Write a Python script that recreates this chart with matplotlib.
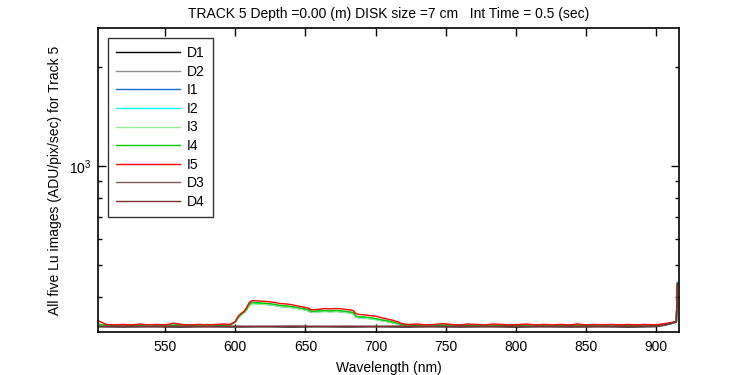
import matplotlib
matplotlib.use("Agg")
import matplotlib.pyplot as plt
from matplotlib.ticker import LogLocator, NullFormatter, FixedLocator

plt.rcParams['font.family'] = ['Liberation Sans', 'DejaVu Sans']

# ---------------- data ----------------
wl = [502, 508, 514, 520, 526, 532, 538, 544, 550, 556, 562, 568, 574, 580, 586, 592,
      596, 598, 600, 602, 604, 606, 608, 610, 612,
      616, 620, 624, 628, 632, 636, 640, 644, 648, 652, 654, 656, 660, 664, 668, 672,
      676, 680, 684, 686, 688, 692, 696, 700, 704, 708, 712, 716, 718, 720,
      724, 730, 736, 742, 748, 754, 760, 766, 772, 778, 784, 790, 796, 802, 808, 814,
      820, 826, 832, 838, 844, 850, 856, 862, 868, 874, 880, 886, 892, 898,
      902, 906, 910, 913, 914.5, 915.3]

I5 = [340, 331, 330, 331, 330, 332, 330, 331, 330, 334, 331, 330, 331, 330, 331, 332,
      331, 334, 338, 350, 357, 362, 372, 386, 391,
      390, 389, 388, 386, 383, 382, 380, 377, 374, 371, 367, 367, 368, 370, 369, 370,
      369, 367, 365, 357, 355, 354, 352, 351, 347, 344, 341, 337, 334, 332,
      331, 332, 330, 331, 333, 331, 330, 332, 331, 330, 332, 331, 330, 331, 332, 330,
      331, 330, 331, 330, 332, 330, 331, 330, 331, 330, 331, 330, 331, 330,
      331, 333, 335, 337, 338, 441]
I4 = [331, 329, 329, 330, 329, 329, 330, 329, 330, 329, 330, 329, 329, 331, 329, 329,
      330, 333, 337, 348, 355, 360, 368, 381, 386,
      385, 384, 383, 381, 378, 377, 375, 373, 370, 367, 363, 363, 364, 365, 364, 365,
      364, 362, 360, 351, 349, 349, 347, 345, 342, 340, 337, 334, 331, 330,
      329, 329, 330, 329, 329, 330, 329, 329, 328, 329, 330, 329, 329, 329, 330, 329,
      329, 328, 329, 329, 330, 329, 329, 329, 330, 329, 329, 329, 330, 329,
      329, 331, 334, 336, 337, 441]
I3 = [330, 329, 329, 329, 329, 329, 329, 330, 329, 329, 329, 329, 329, 329, 329, 329,
      329, 332, 336, 346, 353, 358, 365, 377, 382,
      381, 381, 380, 378, 375, 374, 372, 370, 367, 365, 361, 360, 361, 362, 361, 362,
      361, 359, 357, 349, 347, 346, 344, 342, 340, 338, 335, 332, 330, 329,
      329, 329, 329, 329, 329, 329, 329, 329, 329, 329, 329, 329, 329, 329, 329, 329,
      329, 329, 329, 329, 329, 329, 329, 329, 329, 329, 329, 329, 329, 329,
      329, 331, 333, 336, 337, 441]
I2 = [332, 329, 330, 329, 329, 330, 329, 329, 331, 329, 329, 330, 329, 329, 330, 329,
      330, 332, 336, 347, 354, 359, 367, 382, 387,
      384, 382, 381, 379, 376, 375, 374, 372, 369, 366, 362, 362, 363, 364, 363, 364,
      362, 361, 358, 350, 348, 347, 346, 344, 341, 339, 336, 333, 331, 329,
      330, 329, 329, 330, 329, 329, 331, 329, 329, 330, 329, 329, 330, 329, 329, 330,
      329, 329, 330, 329, 329, 330, 329, 329, 329, 330, 329, 329, 330, 329,
      330, 331, 334, 336, 337, 445]
I1 = [331, 329, 329, 330, 329, 329, 329, 329, 330, 329, 329, 329, 330, 329, 329, 329,
      329, 332, 336, 346, 354, 359, 366, 380, 386,
      383, 381, 380, 378, 375, 374, 373, 371, 368, 364, 360, 361, 362, 363, 362, 363,
      361, 360, 357, 349, 347, 346, 345, 343, 340, 338, 335, 332, 330, 329,
      329, 329, 329, 329, 330, 329, 329, 329, 329, 329, 330, 329, 329, 329, 329, 329,
      329, 329, 329, 330, 329, 328, 329, 329, 329, 329, 329, 330, 329, 329,
      329, 331, 333, 336, 337, 441]

wl_dark = [502, 520, 540, 560, 580, 600, 620, 640, 660, 680, 700, 720, 740, 760,
           780, 800, 820, 840, 860, 880, 900, 906, 910, 913, 914.5, 915.3]
D1 = [326, 325, 326, 325, 326, 325, 326, 325, 326, 325, 326, 325, 326, 325,
      326, 325, 326, 325, 326, 325, 326, 329, 332, 335, 336, 438]
D2 = [326, 326, 326, 327, 326, 326, 326, 327, 326, 326, 326, 327, 326, 326,
      326, 327, 326, 326, 326, 327, 327, 330, 333, 336, 337, 440]
D3 = [327, 326, 327, 326, 327, 326, 327, 326, 327, 326, 327, 326, 327, 326,
      327, 326, 327, 326, 327, 326, 327, 330, 333, 336, 337, 440]
D4 = [326, 327, 326, 327, 326, 327, 326, 327, 326, 327, 326, 327, 326, 327,
      326, 327, 326, 327, 326, 327, 327, 330, 333, 336, 337, 441]

series = [("D1", wl_dark, D1, "#000000"),
          ("D2", wl_dark, D2, "#8c8c8c"),
          ("I1", wl, I1, "#1e6ed2"),
          ("I2", wl, I2, "#00ffff"),
          ("I3", wl, I3, "#90ee90"),
          ("I4", wl, I4, "#00c800"),
          ("I5", wl, I5, "#ff0000"),
          ("D3", wl_dark, D3, "#7d5a5a"),
          ("D4", wl_dark, D4, "#7d2d2d")]

xticks = [550, 600, 650, 700, 750, 800, 850, 900]

# ---------------- plot ----------------
FS = 10
fig = plt.figure(figsize=(7.5, 3.75), dpi=100)
ax = fig.add_axes([98/750, 1 - 332/375, (679-98)/750, (332-28)/375])

for name, x, y, c in series:
    ax.plot(x, y, color=c, lw=1.0, label=name)

ax.set_yscale('log')
ax.set_xlim(502.1, 916.4)
ax.set_ylim(314, 2620)
ax.xaxis.set_major_locator(FixedLocator(xticks))
ax.yaxis.set_major_locator(LogLocator(base=10))
ax.yaxis.set_minor_locator(LogLocator(base=10, subs=range(2, 10)))
ax.yaxis.set_minor_formatter(NullFormatter())

ax.tick_params(which='both', direction='in', top=True, right=True,
               labelsize=FS, width=1, colors='black')
ax.tick_params(axis='x', which='major', length=6, pad=6)
ax.tick_params(axis='y', which='major', length=6, pad=5)
ax.tick_params(which='minor', length=3)
for s in ax.spines.values():
    s.set_linewidth(1.2)

ax.set_xlabel("Wavelength (nm)", fontsize=FS, labelpad=5)
ax.set_ylabel("All five Lu images (ADU/pix/sec) for Track 5", fontsize=FS, labelpad=5)
ax.set_title("TRACK 5 Depth =0.00 (m) DISK size =7 cm   Int Time = 0.5 (sec)",
             fontsize=FS, pad=7)

leg = ax.legend(loc='upper left', fontsize=FS, frameon=True, fancybox=False,
                edgecolor='black', handlelength=4.6, labelspacing=0.33,
                borderaxespad=0.7, borderpad=0.6, handletextpad=0.5)
leg.get_frame().set_linewidth(1.0)

fig.savefig("out.png", dpi=100)
